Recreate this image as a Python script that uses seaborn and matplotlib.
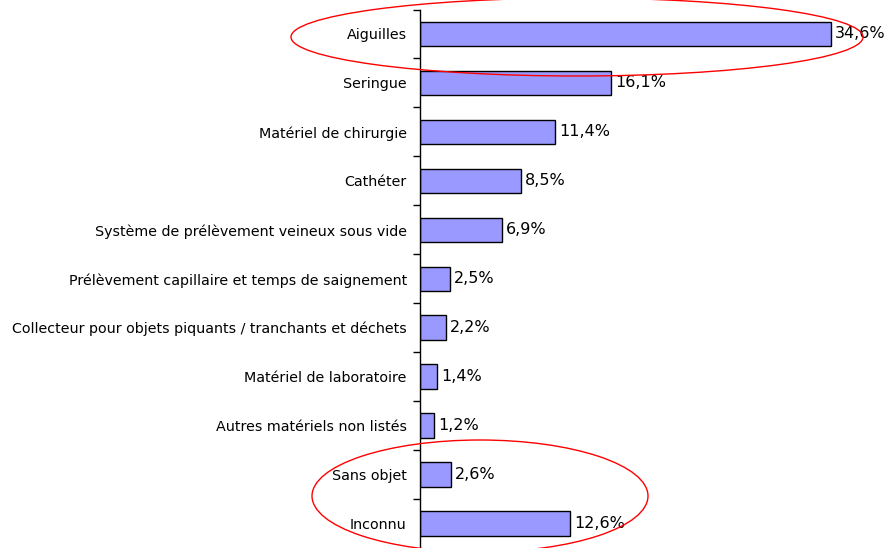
import matplotlib
matplotlib.use("Agg")
import matplotlib.pyplot as plt
from matplotlib.patches import Ellipse
import seaborn as sns

categories = [
    "Aiguilles",
    "Seringue",
    "Matériel de chirurgie",
    "Cathéter",
    "Système de prélèvement veineux sous vide",
    "Prélèvement capillaire et temps de saignement",
    "Collecteur pour objets piquants / tranchants et déchets",
    "Matériel de laboratoire",
    "Autres matériels non listés",
    "Sans objet",
    "Inconnu",
]
values = [34.6, 16.1, 11.4, 8.5, 6.9, 2.5, 2.2, 1.4, 1.2, 2.6, 12.6]
value_labels = ["34,6%", "16,1%", "11,4%", "8,5%", "6,9%", "2,5%", "2,2%", "1,4%", "1,2%", "2,6%", "12,6%"]

W, H = 891, 548
fig = plt.figure(figsize=(W / 100, H / 100), dpi=100)
ax = fig.add_axes([420 / W, 0, (W - 420) / W, (H - 9.5) / H])

sns.barplot(x=values, y=categories, orient="h", color="#9999FF", saturation=1,
            edgecolor="black", linewidth=1, width=0.5, ax=ax)

ax.set_xlim(0, (W - 420) / 11.88)
ax.set_ylim(10.5, -0.5)
ax.bar_label(ax.containers[0], labels=value_labels, padding=3, fontsize=11.5)

for s in ["top", "right", "bottom"]:
    ax.spines[s].set_visible(False)
ax.spines["left"].set_linewidth(1)
ax.set_xticks([])
ax.set_xlabel("")
ax.set_ylabel("")
ax.tick_params(axis="y", which="major", length=0, labelsize=10.3, pad=9.5)
ax.set_yticks([i - 0.5 for i in range(11)], minor=True)
ax.tick_params(axis="y", which="minor", length=5, width=1)

# red ellipses highlighting categories
fig.patches.append(Ellipse((577 / W, 1 - 37 / H), 572 / W, 78 / H, fill=False,
                           edgecolor="red", linewidth=1, transform=fig.transFigure))
fig.patches.append(Ellipse((480 / W, 1 - 496 / H), 336 / W, 112 / H, fill=False,
                           edgecolor="red", linewidth=1, transform=fig.transFigure))

fig.savefig("out.png", dpi=100)
